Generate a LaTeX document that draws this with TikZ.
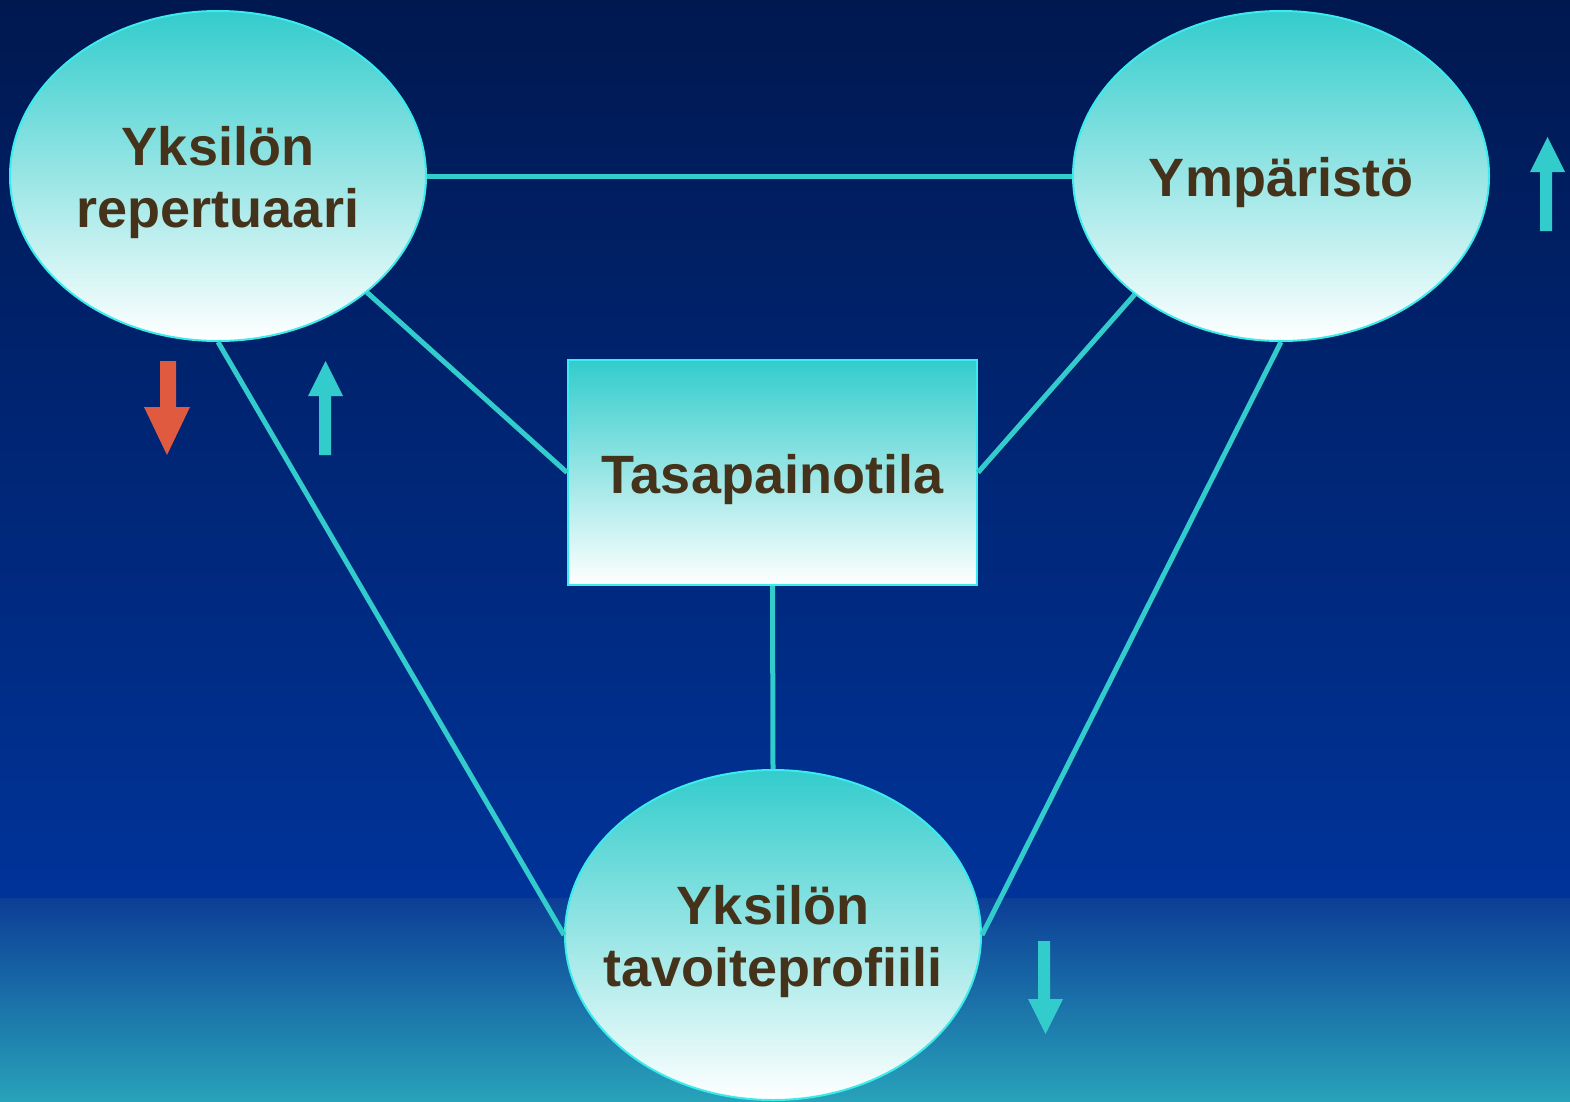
\documentclass[tikz,border=0pt]{standalone}
\usepackage{fontspec}
\setmainfont{Liberation Sans}
\usetikzlibrary{shapes.geometric}
\definecolor{navytop}{RGB}{0,24,80}
\definecolor{navymid}{RGB}{0,51,153}
\definecolor{navylow}{RGB}{12,62,150}
\definecolor{tealbot}{RGB}{40,162,186}
\definecolor{cyanfill}{RGB}{51,204,204}
\definecolor{cyanedge}{RGB}{60,235,235}
\definecolor{linecyan}{RGB}{51,204,204}
\definecolor{txtbrown}{RGB}{68,51,26}
\definecolor{redarrow}{RGB}{224,90,64}
\tikzset{
  caption/.style={text=txtbrown, font=\fontsize{54}{62}\selectfont\bfseries, align=center, inner sep=0pt, yshift=-7pt},
  bubble/.style={ellipse, draw=cyanedge, line width=2pt, top color=cyanfill, bottom color=white,
    minimum width=416pt, minimum height=330pt, inner sep=0pt},
  centerbox/.style={rectangle, draw=cyanedge, line width=2pt, top color=cyanfill, bottom color=white,
    minimum width=409pt, minimum height=225pt, inner sep=0pt},
  link/.style={draw=linecyan, line width=5pt},
  uparrow/.style={fill=linecyan, draw=none},
  downred/.style={fill=redarrow, draw=none}
}
\begin{document}
\begin{tikzpicture}[x=1pt,y=-1pt]
\useasboundingbox (0,0) rectangle (1570,1101);
\shade[top color=navytop, bottom color=navymid] (0,0) rectangle (1570,898);
\shade[top color=navylow, bottom color=tealbot] (0,898) rectangle (1570,1101);

\node[bubble, label={[caption]center:Yksilön\\repertuaari}] (e1) at (218,176) {};
\node[bubble, label={[caption]center:Ympäristö}] (e2) at (1281,176) {};
\node[bubble, label={[caption]center:Yksilön\\tavoiteprofiili}] (e3) at (773,935) {};
\node[centerbox, label={[caption]center:Tasapainotila}] (r) at (772.5,472.5) {};

\draw[link] (e1.east) -- (e2.west);
\draw[link] (e1.-38) -- (r.west);
\draw[link] (e2.-141) -- (r.east);
\draw[link] (r.south) -- (e3.north);
\draw[link] (e1.south) -- (e3.west);
\draw[link] (e2.south) -- (e3.east);

% red down arrow
\fill[downred] (160,361) -- (176,361) -- (176,407) -- (190,407) -- (167,455) -- (144,407) -- (160,407) -- cycle;
% cyan up arrow near e1
\fill[uparrow] (319,455) -- (331,455) -- (331,396) -- (343,396) -- (325.5,361) -- (308,396) -- (319,396) -- cycle;
% cyan up arrow right
\fill[uparrow] (1540,231) -- (1552,231) -- (1552,172) -- (1565,172) -- (1547.5,137) -- (1530,172) -- (1540,172) -- cycle;
% cyan down arrow bottom
\fill[uparrow] (1038,941) -- (1050,941) -- (1050,999) -- (1063,999) -- (1045.5,1034) -- (1028,999) -- (1038,999) -- cycle;
\end{tikzpicture}
\end{document}
